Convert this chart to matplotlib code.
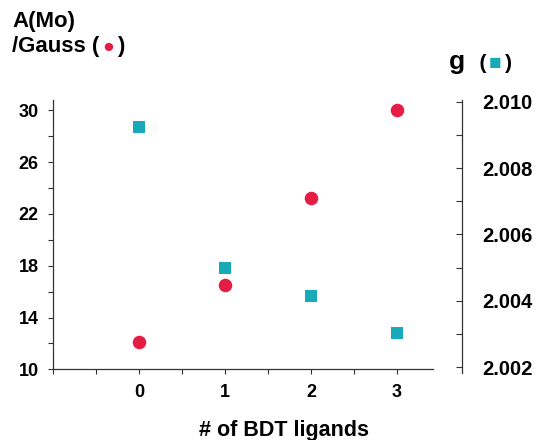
import matplotlib
matplotlib.use("Agg")
import matplotlib.pyplot as plt
from matplotlib.ticker import MultipleLocator, FixedLocator
from matplotlib.offsetbox import TextArea, HPacker, VPacker, AnnotationBbox

plt.rcParams["font.family"] = ["Liberation Sans", "DejaVu Sans"]
plt.rcParams["font.weight"] = "bold"

# data
n_bdt = [0, 1, 2, 3]
a_mo = [12.1, 16.5, 23.2, 30.0]          # A(Mo) / Gauss  (red circles)
g_val = [2.00923, 2.0050, 2.00416, 2.00304]  # g value (teal squares)
a_ticks = [10, 14, 18, 22, 26, 30]
a_minor = [12, 16, 20, 24, 28]

red = "#E51D45"
teal = "#17AAB9"
dark = "#333333"

fig = plt.figure(figsize=(5.36, 4.4), dpi=100)
ax = fig.add_axes([0.0994, 0.1607, 0.7084, 0.6118])
ax2 = fig.add_axes([0.0994, 0.1523, 0.7084, 0.6205])

ax.scatter(n_bdt, a_mo, marker="o", s=95, color=red, zorder=3, linewidths=0)
ax2.scatter(n_bdt, g_val, marker="s", s=65, color=teal, zorder=3, linewidths=0)

for a in (ax, ax2):
    a.set_xlim(-1.0, 3.42)
ax.set_ylim(10, 30.8)
ax2.set_ylim(2.00183, 2.01005)

# main axes: left + bottom spines only
for side in ("top", "right"):
    ax.spines[side].set_visible(False)
for side in ("left", "bottom"):
    ax.spines[side].set_color(dark)
    ax.spines[side].set_linewidth(0.9)

ax.xaxis.set_major_locator(FixedLocator([0, 1, 2, 3]))
ax.xaxis.set_minor_locator(MultipleLocator(0.5))
ax.yaxis.set_major_locator(FixedLocator(a_ticks))
ax.yaxis.set_minor_locator(FixedLocator(a_minor))
ax.tick_params(axis="both", which="both", direction="out", length=3.5,
               width=0.8, color=dark, labelsize=13)
ax.tick_params(axis="y", pad=7)
ax.tick_params(axis="x", pad=7)
ax.set_xticklabels(["0", "1", "2", "3"], fontweight="bold")
for lab in ax.get_yticklabels():
    lab.set_fontweight("bold")

# detached right axis for g
ax2.patch.set_visible(False)
for side in ("top", "left", "bottom"):
    ax2.spines[side].set_visible(False)
ax2.spines["right"].set_position(("outward", 20.7))
ax2.spines["right"].set_color(dark)
ax2.spines["right"].set_linewidth(0.9)
ax2.xaxis.set_visible(False)
ax2.yaxis.tick_right()
ax2.yaxis.set_major_locator(MultipleLocator(0.002))
ax2.yaxis.set_minor_locator(MultipleLocator(0.001))
ax2.yaxis.set_major_formatter(plt.FormatStrFormatter("%.3f"))
ax2.tick_params(axis="y", which="both", direction="in", length=4,
                width=0.8, color=dark, labelsize=14.5, pad=15)
for lab in ax2.get_yticklabels():
    lab.set_fontweight("bold")

fig.text(284 / 536, 1 - 436 / 440, "# of BDT ligands", ha="center",
         va="baseline", fontsize=15.5, fontweight="bold")

# left axis title with red circle symbol
tp = dict(fontsize=16, fontweight="bold", color="black")
line1 = TextArea("A(Mo)", textprops=tp)
line2 = HPacker(children=[TextArea("/Gauss (", textprops=tp),
                          TextArea("\u25cf", textprops=dict(tp, color=red, fontsize=14)),
                          TextArea(")", textprops=tp)],
                align="baseline", pad=0, sep=2)
title_l = VPacker(children=[line1, line2], align="left", pad=0, sep=3)
fig.add_artist(AnnotationBbox(title_l, (12 / 536, 1 - 11 / 440),
                              xycoords="figure fraction", box_alignment=(0, 1),
                              frameon=False, pad=0))

# right axis title with teal square symbol
title_r = HPacker(children=[TextArea("g", textprops=dict(fontsize=19, fontweight="bold")),
                            TextArea("  (", textprops=dict(fontsize=15, fontweight="bold")),
                            TextArea("\u25a0", textprops=dict(fontsize=15, color=teal)),
                            TextArea(")", textprops=dict(fontsize=15, fontweight="bold"))],
                  align="baseline", pad=0, sep=2)
fig.add_artist(AnnotationBbox(title_r, (449 / 536, 1 - 50 / 440),
                              xycoords="figure fraction", box_alignment=(0, 1),
                              frameon=False, pad=0))

fig.savefig("out.png", dpi=100)
